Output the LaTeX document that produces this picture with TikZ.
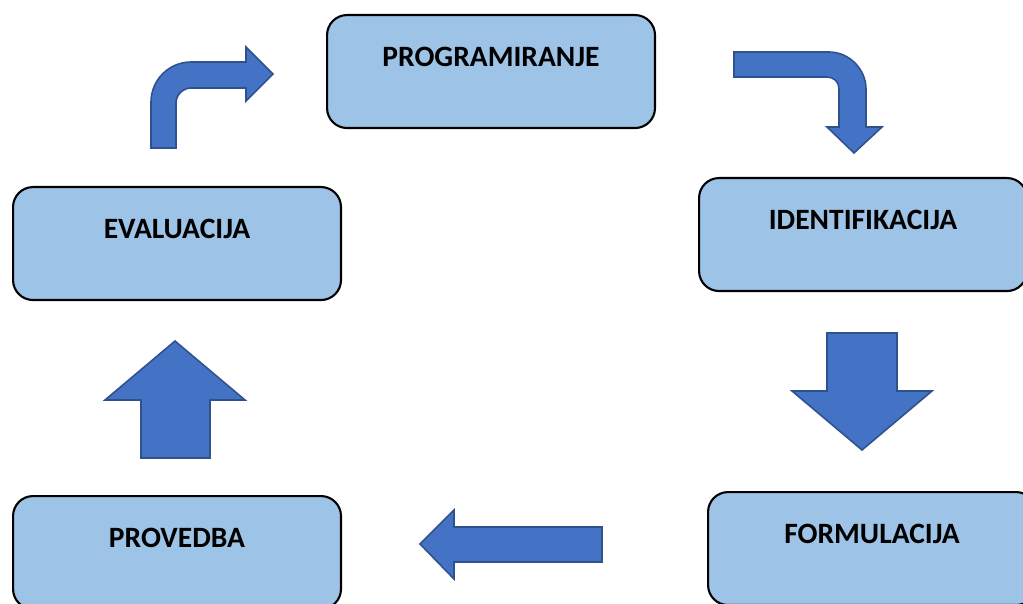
\documentclass[tikz,border=0pt]{standalone}
\usepackage{fontspec}
\setmainfont{Carlito}
\definecolor{boxblue}{HTML}{9DC3E6}
\definecolor{arrowblue}{HTML}{4472C4}
\definecolor{arrowedge}{HTML}{2F528F}

\begin{document}
\begin{tikzpicture}[x=0.02cm, y=-0.02cm,
    stage/.style={draw=black, line width=1.2pt, fill=boxblue, rounded corners=0.4cm,
      anchor=north west, inner sep=0pt, minimum width=6.56cm,
      text height=1.02cm, text depth=1.24cm, font=\fontsize{16.8}{20}\selectfont\bfseries},
    blockarrow/.style={draw=arrowedge, line width=0.9pt, fill=arrowblue, line join=miter}]
    \useasboundingbox (0,0) rectangle (1023,604);
    \clip (0,0) rectangle (1023,604);

    \node[stage] (prog) at (326,14) {PROGRAMIRANJE};
    \node[stage] (ident) at (698,177) {IDENTIFIKACIJA};
    \node[stage] (form) at (707,491) {FORMULACIJA};
    \node[stage] (prov) at (12,495) {PROVEDBA};
    \node[stage] (eval) at (12,186) {EVALUACIJA};

    % eval -> prog
    \draw[blockarrow] (151,148) -- (151,102) .. controls (151,80) and (169,62) .. (191,62)
      -- (246,62) -- (246,47) -- (273,74) -- (246,101) -- (246,88) -- (191,88)
      .. controls (183,88) and (176,95) .. (176,103) -- (176,148) -- cycle;
    % prog -> ident
    \draw[blockarrow] (734,52) -- (829,52) .. controls (849,52) and (866,69) .. (866,89)
      -- (866,127) -- (882,127) -- (854,153) -- (827,127) -- (839,127) -- (839,89)
      .. controls (839,82) and (834,77) .. (827,77) -- (734,77) -- cycle;
    % ident -> form
    \draw[blockarrow] (827,333) -- (897,333) -- (897,391) -- (932,391) -- (862,450)
      -- (792,391) -- (827,391) -- cycle;
    % form -> prov
    \draw[blockarrow] (602,527) -- (602,562) -- (454,562) -- (454,579) -- (420,544)
      -- (454,510) -- (454,527) -- cycle;
    % prov -> eval
    \draw[blockarrow] (141,458) -- (141,400) -- (105,400) -- (175,341) -- (245,400)
      -- (210,400) -- (210,458) -- cycle;
  \end{tikzpicture}
\end{document}
